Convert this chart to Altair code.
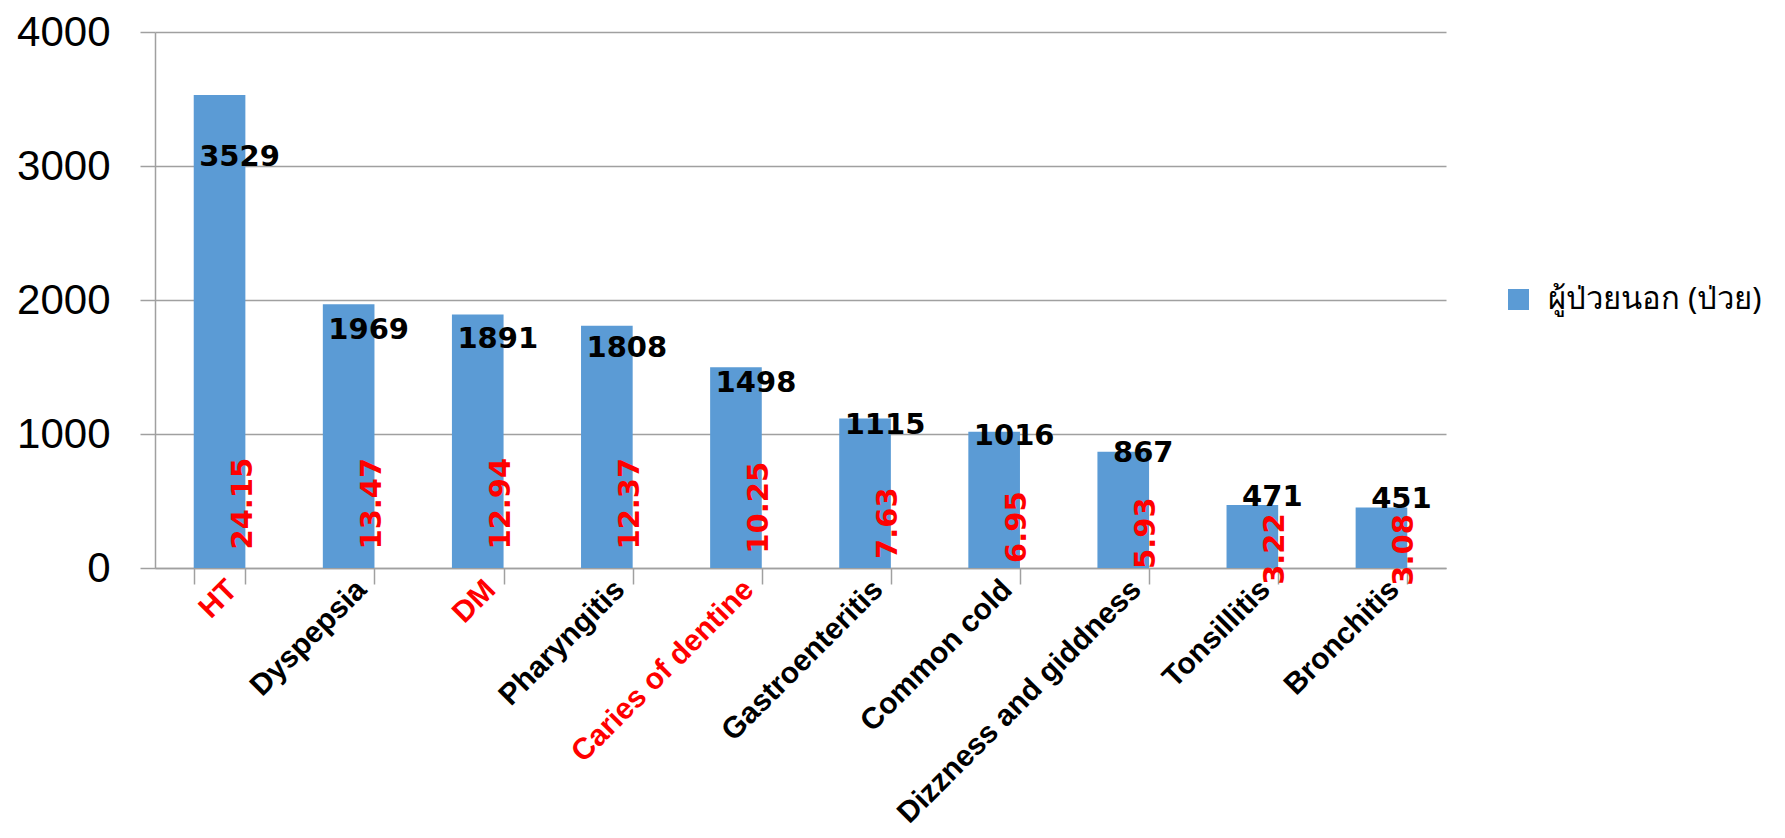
import altair as alt
import pandas as pd

categories = ["HT", "Dyspepsia", "DM", "Pharyngitis", "Caries of dentine",
              "Gastroenteritis", "Common cold", "Dizzness and giddness",
              "Tonsillitis", "Bronchitis"]
patients = [3529, 1969, 1891, 1808, 1498, 1115, 1016, 867, 471, 451]
percents = ["24.15", "13.47", "12.94", "12.37", "10.25", "7.63", "6.95", "5.93", "3.22", "3.08"]
highlight = ["HT", "DM", "Caries of dentine"]
series_name = "ผู้ป่วยนอก (ป่วย)"
y_ticks = [0, 1000, 2000, 3000, 4000]

df = pd.DataFrame({
    "cat": categories,
    "value": patients,
    "pct": percents,
    "series": [series_name] * len(categories),
})

hl_test = "indexof(" + str(highlight).replace("'", "\"") + ", datum.value) >= 0"

x = alt.X("cat:N", sort=categories, title=None,
          scale=alt.Scale(paddingInner=0.6, paddingOuter=0.3),
          axis=alt.Axis(labelAngle=-45, labelFont="Liberation Sans", labelFontWeight="bold",
                        labelFontSize=30, labelColor={"condition": {"test": hl_test, "value": "#FF0000"}, "value": "black"},
                        tickBand="extent", tickSize=16, tickColor="#a0a0a0", tickWidth=1.5,
                        domainColor="#a0a0a0", domainWidth=1.5, labelPadding=-10, labelOffset=2,
                        grid=False, labelLimit=0))

y = alt.Y("value:Q", title=None,
          scale=alt.Scale(domain=[0, 4000], nice=False),
          axis=alt.Axis(values=y_ticks, format="d", labelFont="Liberation Sans", labelFontSize=42,
                        labelColor="black", labelPadding=30, tickSize=15, tickColor="#a0a0a0",
                        tickWidth=1.5, domainColor="#a0a0a0", domainWidth=1.5,
                        gridColor="#a0a0a0", gridWidth=1.5))

base = alt.Chart(df)

bars = base.mark_bar(color="#5B9BD5").encode(
    x=x, y=y,
    color=alt.Color("series:N", title=None,
                    scale=alt.Scale(range=["#5B9BD5"]),
                    legend=alt.Legend(orient="none", legendX=1348, legendY=252,
                                      symbolType="square", symbolSize=441,
                                      symbolStrokeWidth=0, labelFontSize=31,
                                      labelFont="Noto Sans", labelColor="black",
                                      labelOffset=14, padding=0, labelLimit=0)),
)

values_text = base.transform_calculate(
    ly="0.83 * datum.value + 140"
).mark_text(font="DejaVu Sans", fontWeight="bold", fontSize=29, color="black",
            baseline="middle", align="center", dx=20).encode(
    x=alt.X("cat:N", sort=categories),
    y=alt.Y("ly:Q"),
    text="value:Q",
)

pct_text = base.transform_calculate(
    py="min(480, 0.3 * datum.value)"
).mark_text(font="DejaVu Sans", fontWeight="bold", fontSize=29, color="#FF0000",
            baseline="middle", align="center", angle=270, dy=23).encode(
    x=alt.X("cat:N", sort=categories),
    y=alt.Y("py:Q"),
    text="pct:N",
)

chart = alt.layer(bars, values_text, pct_text).properties(
    width=1291, height=536,
    autosize=alt.AutoSizeParams(type="none"),
    padding={"left": 147, "top": 24, "right": 330, "bottom": 261},
    background="white",
).configure_view(stroke=None)

chart.save("out.html", embed_options={"renderer": "svg", "actions": False})
